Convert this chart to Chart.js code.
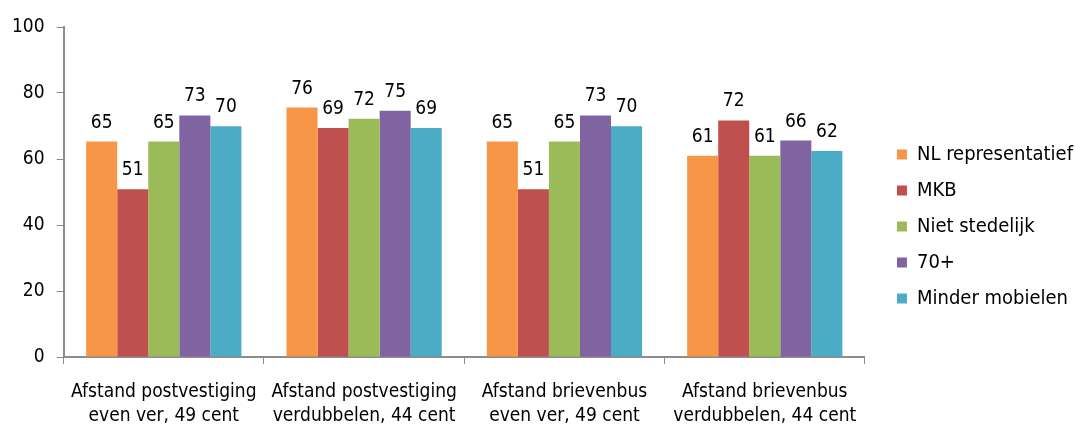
<!DOCTYPE html>
<html>
<head>
<meta charset="utf-8">
<script src="https://cdn.jsdelivr.net/npm/chart.js@4"></script>
<style>
  html, body { margin: 0; padding: 0; background: #fff; }
  #wrap { width: 1075px; height: 426px; }
</style>
</head>
<body>
<div id="wrap"><canvas id="chart"></canvas></div>
<script>
var categories = [
  ['Afstand postvestiging', 'even ver, 49 cent'],
  ['Afstand postvestiging', 'verdubbelen, 44 cent'],
  ['Afstand brievenbus', 'even ver, 49 cent'],
  ['Afstand brievenbus', 'verdubbelen, 44 cent']
];
var seriesNames = ['NL representatief', 'MKB', 'Niet stedelijk', '70+', 'Minder mobielen'];
var nlRepresentatief = [65.3, 75.6, 65.3, 61.0];
var mkb = [50.8, 69.4, 50.8, 71.7];
var nietStedelijk = [65.3, 72.2, 65.3, 61.0];
var zeventigPlus = [73.2, 74.6, 73.2, 65.6];
var minderMobielen = [69.9, 69.4, 69.9, 62.4];
var yTicks = [0, 20, 40, 60, 80, 100];

var colors = ['#F79646', '#C0504D', '#9BBB59', '#8064A2', '#4BACC6'];
var values = [nlRepresentatief, mkb, nietStedelijk, zeventigPlus, minderMobielen];
var fontFamily = '"DejaVu Sans Condensed", "DejaVu Sans", sans-serif';

// draws the value above each bar
var valueLabels = {
  id: 'valueLabels',
  afterDatasetsDraw: function(chart) {
    var ctx = chart.ctx;
    ctx.save();
    ctx.font = '19px ' + fontFamily;
    ctx.fillStyle = '#000';
    ctx.textAlign = 'center';
    ctx.textBaseline = 'alphabetic';
    chart.data.datasets.forEach(function(ds, i) {
      chart.getDatasetMeta(i).data.forEach(function(bar, j) {
        ctx.fillText(Math.round(ds.data[j]), bar.x, bar.y - 14);
      });
    });
    ctx.restore();
  }
};

// pushes the legend a bit to the right, leaving a wider gap next to the plot
var legendShift = {
  id: 'legendShift',
  afterLayout: function(chart) {
    chart.legend.left += 16;
    chart.legend.right += 16;
  }
};

var datasets = seriesNames.map(function(name, i) {
  return {
    label: name,
    data: values[i],
    backgroundColor: colors[i],
    borderWidth: 0
  };
});

new Chart(document.getElementById('chart'), {
  type: 'bar',
  data: { labels: categories, datasets: datasets },
  plugins: [valueLabels, legendShift],
  options: {
    responsive: true,
    maintainAspectRatio: false,
    animation: false,
    layout: { padding: { top: 27, right: 8, left: 0, bottom: 0 } },
    datasets: { bar: { categoryPercentage: 0.775, barPercentage: 1.0 } },
    plugins: {
      tooltip: { enabled: false },
      legend: {
        position: 'right',
        labels: {
          boxWidth: 10,
          boxHeight: 10,
          padding: 16,
          color: '#000',
          font: { family: fontFamily, size: 20 }
        }
      }
    },
    scales: {
      x: {
        afterFit: function(axis) { axis.height = 69; },
        grid: { drawOnChartArea: false, tickLength: 7, color: '#8c8c8c', offset: true },
        border: { color: '#8c8c8c', width: 2 },
        ticks: {
          color: '#000',
          padding: 16,
          maxRotation: 0,
          font: { family: fontFamily, size: 19, lineHeight: 1.263 }
        }
      },
      y: {
        min: 0,
        max: 100,
        afterBuildTicks: function(axis) {
          axis.ticks = yTicks.map(function(v) { return { value: v }; });
        },
        grid: { drawOnChartArea: false, tickLength: 7, color: '#8c8c8c' },
        border: { color: '#8c8c8c', width: 2 },
        ticks: {
          color: '#000',
          padding: 12,
          font: { family: fontFamily, size: 19 }
        }
      }
    }
  }
});
</script>
</body>
</html>
